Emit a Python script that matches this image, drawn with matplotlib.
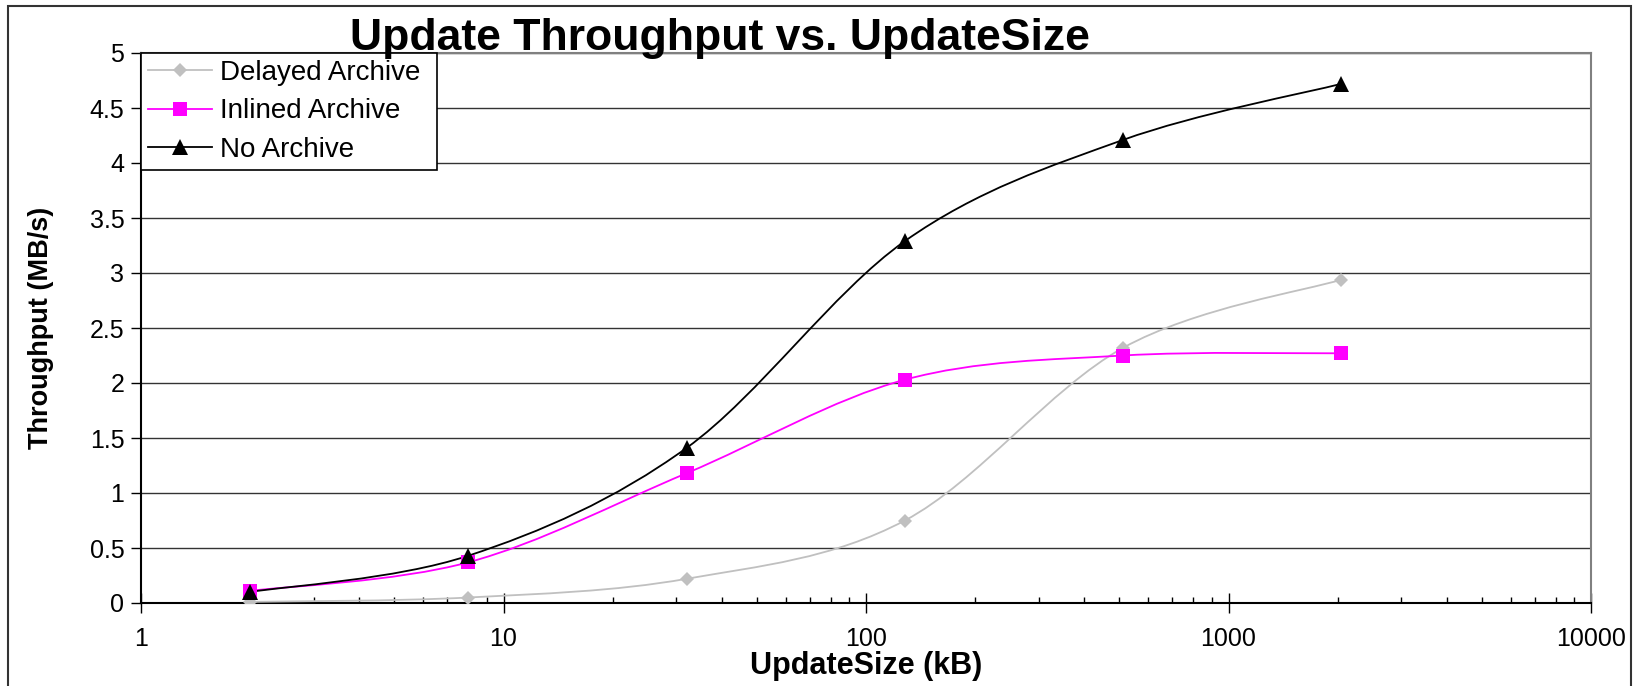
import numpy as np
import matplotlib
matplotlib.use("Agg")
import matplotlib.pyplot as plt
from matplotlib.path import Path
from matplotlib.patches import PathPatch, Rectangle
from matplotlib.lines import Line2D
from matplotlib.ticker import LogLocator, NullFormatter, FixedLocator

plt.rcParams['font.family'] = ['Liberation Sans', 'DejaVu Sans']

# data
update_size_kb = [2, 8, 32, 128, 512, 2048]
delayed_archive = [0.01, 0.05, 0.22, 0.75, 2.32, 2.94]
inlined_archive = [0.11, 0.37, 1.18, 2.03, 2.25, 2.27]
no_archive = [0.10, 0.43, 1.41, 3.29, 4.21, 4.72]

series_names = ['Delayed Archive', 'Inlined Archive', 'No Archive']
y_ticks = [0, 0.5, 1, 1.5, 2, 2.5, 3, 3.5, 4, 4.5, 5]
y_tick_labels = ['0', '0.5', '1', '1.5', '2', '2.5', '3', '3.5', '4', '4.5', '5']
x_ticks = [1, 10, 100, 1000, 10000]
x_tick_labels = ['1', '10', '100', '1000', '10000']


def smooth_path(xs, ys):
    """Excel-like smoothed line: cubic Bezier through the points, built in log-x space"""
    pts = np.column_stack([np.log10(xs), ys]).astype(float)
    n = len(pts)
    verts = [pts[0]]
    codes = [Path.MOVETO]
    for i in range(n - 1):
        p0 = pts[i - 1] if i > 0 else pts[i]
        p1 = pts[i]
        p2 = pts[i + 1]
        p3 = pts[i + 2] if i + 2 < n else pts[i + 1]
        verts += [p1 + (p2 - p0) / 6, p2 - (p3 - p1) / 6, p2]
        codes += [Path.CURVE4] * 3
    verts = np.array(verts)
    verts[:, 0] = 10 ** verts[:, 0]
    return Path(verts, codes)


fig = plt.figure(figsize=(16.43, 6.86), dpi=100)
ax = fig.add_axes([141 / 1643, 1 - 603 / 686, 1450 / 1643, 550 / 686])

styles = [
    (delayed_archive, '#C0C0C0', 'D', 7.5),
    (inlined_archive, '#FF00FF', 's', 9.5),
    (no_archive, '#000000', '^', 11),
]

handles = []
for (vals, color, marker, ms), name in zip(styles, series_names):
    ax.plot(update_size_kb, vals, linestyle='none', marker=marker, ms=ms,
            color=color, markeredgewidth=0, zorder=4)
    patch = PathPatch(smooth_path(update_size_kb, vals), fill=False,
                      edgecolor=color, lw=1.3, transform=ax.transData, zorder=3)
    ax.add_patch(patch)
    handles.append(Line2D([], [], color=color, lw=1.3, marker=marker, ms=ms,
                          markeredgewidth=0, label=name))

ax.set_xscale('log')
ax.set_xlim(1, 10000)
ax.set_ylim(0, 5)

ax.xaxis.set_major_locator(FixedLocator(x_ticks))
ax.set_xticklabels(x_tick_labels)
ax.xaxis.set_minor_locator(LogLocator(base=10, subs=np.arange(2, 10)))
ax.xaxis.set_minor_formatter(NullFormatter())
ax.set_yticks(y_ticks)
ax.set_yticklabels(y_tick_labels)

ax.tick_params(axis='x', which='major', direction='inout', length=15, width=1,
               labelsize=18, pad=10)
ax.tick_params(axis='x', which='minor', direction='in', length=4, width=1)
ax.tick_params(axis='y', which='major', direction='out', length=7, width=1,
               labelsize=18, pad=5)

ax.yaxis.grid(True, color='#333333', lw=1)
ax.set_axisbelow(True)

for side in ['top', 'right']:
    ax.spines[side].set_color('#808080')
    ax.spines[side].set_linewidth(1.5)
for side in ['left', 'bottom']:
    ax.spines[side].set_color('#000000')
    ax.spines[side].set_linewidth(1.5)

ax.set_xlabel('UpdateSize (kB)', fontsize=22, fontweight='bold')
ax.xaxis.set_label_coords(0.5, -0.088)
ax.set_ylabel('Throughput (MB/s)', fontsize=19.5, fontweight='bold')
ax.yaxis.set_label_coords(-0.060, 0.5)

leg = ax.legend(handles=handles, loc='upper left',
                bbox_to_anchor=(0, 1, 296 / 1450, 0), mode='expand',
                fontsize=20, frameon=True, fancybox=False, framealpha=1,
                edgecolor='#000000', borderpad=0.25, labelspacing=0.45,
                handlelength=2.3, handletextpad=0.3, borderaxespad=0)
leg.get_frame().set_linewidth(1.2)
leg.set_zorder(6)

fig.text(720 / 1643, 1 - 50 / 686, 'Update Throughput vs. UpdateSize',
         fontsize=32, fontweight='bold', ha='center', va='baseline')

# outer chart-area border (open at the bottom, as in the reference)
fig.patches.append(Rectangle((8 / 1643, -0.05), 1623 / 1643, 1.05 - 6 / 686,
                             transform=fig.transFigure, fill=False,
                             edgecolor='#333333', lw=1.5))

fig.savefig('out.png', dpi=100)
